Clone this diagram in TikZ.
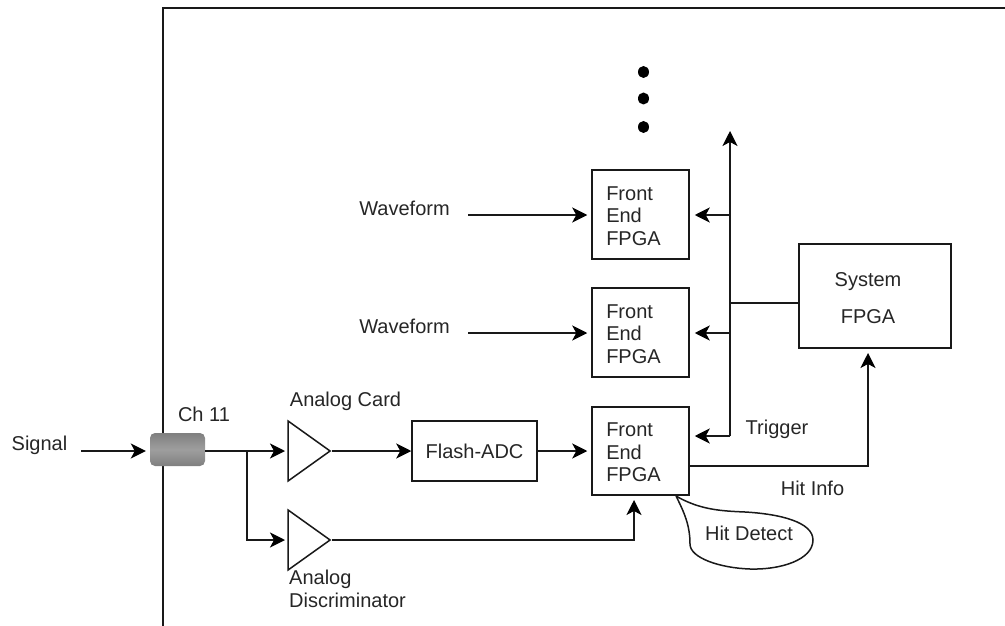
\documentclass[tikz,border=0pt]{standalone}
\usepackage{fontspec}
\setmainfont{Liberation Sans}
\usetikzlibrary{arrows.meta,shapes.geometric,calc}
\tikzset{
  wire/.style={draw=black!90,line width=1.5pt},
  arr/.style={wire,-{Stealth[length=15pt,width=15pt,inset=4pt,color=black]}},
  block/.style={draw=black!90,line width=1.5pt,inner sep=0pt,align=center,font=\fontsize{20}{22.5}\selectfont,text=black!85},
  label/.style={inner sep=0pt,font=\fontsize{20}{22.5}\selectfont,text=black!85,align=left},
  amp/.style={draw=black!90,line width=1.5pt,isosceles triangle,isosceles triangle stretches,minimum width=60pt,minimum height=42pt,inner sep=0pt},
  dotmark/.style={ellipse,fill=black,inner sep=0pt,minimum width=11pt,minimum height=12pt},
  felabel/.style={inner sep=0pt,align=left,font=\fontsize{20}{22.5}\selectfont,text=black!85}
}
\begin{document}
\begin{tikzpicture}[x=1pt,y=-1pt]
\useasboundingbox (0,0) rectangle (1005,626);
% frame
\coordinate (frameB) at (163,626);
\coordinate (frameC) at (163,8);
\coordinate (frameR) at (1005,8);
\draw[wire] (frameB) -- (frameC) -- (frameR);
% connector
\node[rounded corners=5pt,minimum width=55pt,minimum height=33pt,inner sep=0pt,top color=black!50,bottom color=black!50,middle color=black!38] (conn) at (177.5,449.5) {};
% amps
\node[amp] (ampA) at (303.5,451) {};
\node[amp] (ampB) at (303.5,540) {};
% blocks
\node[block,minimum width=125pt,minimum height=60pt] (adc) at (474.5,451) {Flash-ADC};
\node[block,minimum width=97pt,minimum height=89pt] (fea) at (640.5,214.5) {};
\node[block,minimum width=97pt,minimum height=89pt] (feb) at (640.5,332.5) {};
\node[block,minimum width=97pt,minimum height=88pt] (fec) at (640.5,451) {};
\node[block,minimum width=152pt,minimum height=104pt] (sys) at (875,296) {};
\node[felabel] (ta) at (633.5,216) {Front\\End\\FPGA};
\node[felabel] (tb) at (633.5,334) {Front\\End\\FPGA};
\node[felabel] (tc) at (633.5,452.5) {Front\\End\\FPGA};
% labels
\node[label] (lsig) at (39.5,445) {Signal};
\node[label] (lch) at (204,414) {Ch 11};
\node[label] (lcard) at (345.5,401) {Analog Card};
\node[label,anchor=north west] (ldisc) at (289,570) {Analog\\Discriminator};
\node[label] (lwa) at (404.5,208) {Waveform};
\node[label] (lwb) at (404.5,326) {Waveform};
\node[label] (ltrig) at (777,429) {Trigger};
\node[label] (lhit) at (812.5,488) {Hit Info};
\node[label] (lsysa) at (868,282) {System};
\node[label] (lsysb) at (868,317) {FPGA};
\node[label] (lhd) at (749,533) {Hit Detect};
% dots
\node[dotmark] (da) at (643.5,72) {};
\node[dotmark] (db) at (643.5,98.5) {};
\node[dotmark] (dc) at (643.5,127) {};
% input connectors
\coordinate (sigS) at (81,451);
\draw[arr] (sigS) -- ($(conn.west|-sigS)+(-4,0)$);
\coordinate (ampAin) at (288,451);
\coordinate (ampBin) at (288,540);
\coordinate (tap) at (247,451);
\draw[arr,shorten >=3pt] (conn.east|-ampAin) -- (ampAin);
\draw[arr,shorten >=3pt] (tap) -- (tap|-ampBin) -- (ampBin);
\draw[arr] (ampA.apex) -- (adc.west);
\draw[arr,shorten >=4pt] (adc.east) -- (fec.west);
\coordinate (feIn) at (634,495);
\draw[arr,shorten >=5pt] (ampB.apex) -- (ampB.apex-|feIn) -- (feIn);
% waveform
\coordinate (wsa) at (468,215);
\coordinate (wsb) at (468,333);
\draw[arr,shorten >=4pt] (wsa) -- (fea.west|-wsa);
\draw[arr,shorten >=4pt] (wsb) -- (feb.west|-wsb);
% bus
\coordinate (busT) at (730,131);
\coordinate (busB) at (730,436);
\draw[arr] (busB) -- (busT);
\draw[arr,shorten >=5pt] (busT|-wsa) -- (fea.east|-wsa);
\draw[arr,shorten >=5pt] (busT|-wsb) -- (feb.east|-wsb);
\draw[arr,shorten >=5pt] (busB) -- (fec.east|-busB);
\coordinate (sysT) at (799,303);
\draw[wire] (sys.west|-sysT) -- (busT|-sysT);
% hit info
\coordinate (hitL) at (689,466);
\coordinate (hitU) at (868,348);
\draw[arr,shorten >=5pt] (fec.east|-hitL) -- (hitU|-hitL) -- (hitU);
% bubble
\coordinate (tail) at (676,496);
\draw[wire] (tail) .. controls (700,510) and (722,511) .. (745,512)
  .. controls (780,514) and (813,522) .. (813,540)
  .. controls (813,560) and (780,570) .. (750,569)
  .. controls (720,568) and (690,558) .. (690,544)
  .. controls (690,525) and (684,512) .. (tail);
\end{tikzpicture}
\end{document}
